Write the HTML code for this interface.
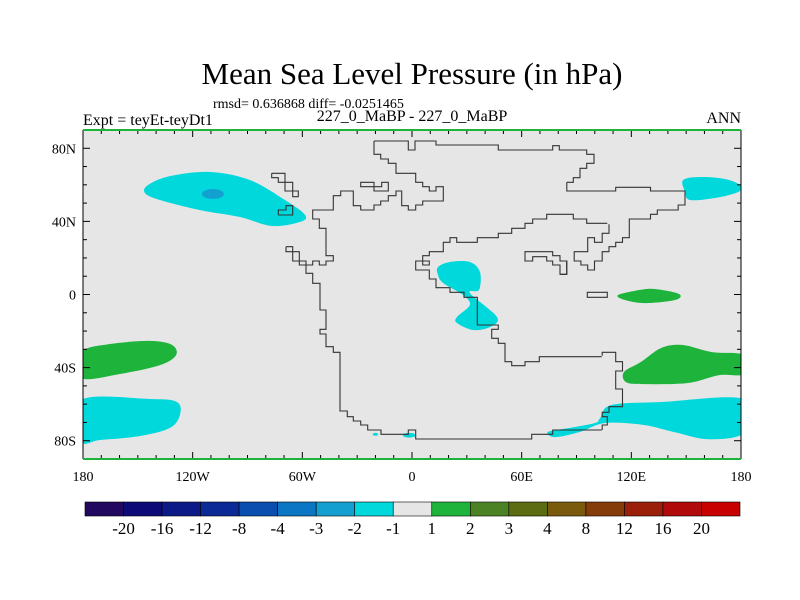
<!DOCTYPE html>
<html><head><meta charset="utf-8">
<style>
body{margin:0;background:#fff;}
svg{display:block;font-family:"Liberation Serif",serif;}
</style></head>
<body>
<svg id="chart" width="800" height="600" viewBox="0 0 800 600">
<text x="412" y="84" text-anchor="middle" font-size="31">Mean Sea Level Pressure (in hPa)</text>
<text x="213" y="108" font-size="14">rmsd= 0.636868 diff= -0.0251465</text>
<text x="83" y="125" font-size="16">Expt = teyEt-teyDt1</text>
<text x="412" y="121" text-anchor="middle" font-size="16">227_0_MaBP - 227_0_MaBP</text>
<text x="741" y="123" text-anchor="end" font-size="16">ANN</text>
<defs><clipPath id="plotclip"><rect x="83" y="130" width="658" height="329"/></clipPath></defs>
<rect x="83" y="130" width="658" height="329" fill="#e6e6e6"/>
<g id="fills" clip-path="url(#plotclip)"></g>
<g id="coast" clip-path="url(#plotclip)"></g>
<g id="axes"></g>
<g id="cbar"></g>
</svg>
<script>
const NS="http://www.w3.org/2000/svg";
const X0=83,X1=741,Y0=130,Y1=459;
function xs(lon){return X0+(lon+180)*(X1-X0)/360;}
function ys(lat){return Y0+(90-lat)*(Y1-Y0)/180;}
function mk(tag,attrs,parent){const e=document.createElementNS(NS,tag);for(const k in attrs)e.setAttribute(k,attrs[k]);parent.appendChild(e);return e;}

// ---- contour-fill regions (lon, lat) ----
const blobNames=["nw-pacific-low","ne-pacific-low","africa-low","equatorial-high","se-high","sw-high","sw-southern-low","se-southern-low"];
const blobLevels=[-1.5,-1.5,-1.5,1.5,1.5,1.5,-1.5,-1.5];
const blobLons=[
 [-144.4,-132.4,-110.5,-88.6,-69.5,-58.5,-61.3,-76.6,-94.1,-116,-137.9,-146.1],
 [148.3,157.6,171.2,179.4,178.5,165.8,152.1,149.4],
 [14.2,20.8,31.7,37.2,36.7,31.7,46.5,42.7,33.4,24.6,24.6,31.7,27.9,17,14.2],
 [112.7,124.7,132.9,146.1,143.9,127.5,116.5],
 [116,125.3,136.2,147.7,164.1,182,182,168,151,126.9,117.1],
 [-181,-165.2,-143.3,-131.3,-129.1,-137.9,-159.8,-181],
 [-181,-143.3,-128.6,-127,-132.4,-148.8,-170.7,-181],
 [102.9,108.9,136.2,182,182,162.5,143.9,126.9,105.6,91.9,78.2,74.4,86.4,100.1]
];
const blobLats=[
 [59.9,64.8,67,62.6,51.7,43.5,39.7,37.5,42.4,46.2,51.7,55.5],
 [62.6,64.3,63.2,59.9,56.1,52.8,51.7,56.1],
 [15,17.8,17.8,12.3,2.5,0.8,-12.3,-17.8,-19.4,-15.6,-12.3,-5.7,-0.3,6.3,10.7],
 [-0.3,2.5,3,0.3,-3,-4.7,-3],
 [-42.4,-36.9,-29.3,-27.6,-31.5,-33.2,-43.5,-44.1,-48.4,-49,-47.9],
 [-31.5,-27.1,-25.4,-27.6,-33.2,-38.6,-43.5,-45.7],
 [-57.7,-57.2,-58.8,-65.9,-73,-77.4,-79.6,-80.2],
 [-67.6,-60.5,-58.8,-57.2,-75.4,-79.2,-75.4,-71.4,-70.3,-75.2,-78,-75.2,-73,-70.3]
];
// small spots: lon, lat, rLon, rLat, level
const spotLons=[-108.9,-1.5,-20];
const spotLats=[55,-77,-76.5];
const spotRLon=[6,3.5,1.5];
const spotRLat=[2.7,1.3,0.8];
const spotLevels=[-2.5,-1.5,-1.5];

// colorbar
const cbLabels=["-20","-16","-12","-8","-4","-3","-2","-1","1","2","3","4","8","12","16","20"];
const cbColors=["#23085f","#0d0a78","#0c1a88","#0b2a96","#0a4fb0","#0a76c4","#13a0d0","#00d8dc","#e6e6e6","#1eb43c","#4a8224","#5b6c12","#7a5a0c","#843c0a","#9a200a","#b00a0a","#c80000"];
function colorFor(v){const b=[-20,-16,-12,-8,-4,-3,-2,-1,1,2,3,4,8,12,16,20];let i=0;while(i<b.length&&v>=b[i])i++;return cbColors[i];}

const fills=document.getElementById('fills');
function smoothPath(pts){
  const n=pts.length;let d="";
  for(let i=0;i<n;i++){
    const p0=pts[(i-1+n)%n],p1=pts[i],p2=pts[(i+1)%n],p3=pts[(i+2)%n];
    if(i===0)d+="M"+p1[0].toFixed(1)+","+p1[1].toFixed(1);
    const c1=[p1[0]+(p2[0]-p0[0])/6,p1[1]+(p2[1]-p0[1])/6];
    const c2=[p2[0]-(p3[0]-p1[0])/6,p2[1]-(p3[1]-p1[1])/6];
    d+="C"+c1[0].toFixed(1)+","+c1[1].toFixed(1)+" "+c2[0].toFixed(1)+","+c2[1].toFixed(1)+" "+p2[0].toFixed(1)+","+p2[1].toFixed(1);
  }
  return d+"Z";
}
blobLons.forEach((lons,k)=>{
  const pts=lons.map((lo,i)=>[xs(lo),ys(blobLats[k][i])]);
  const p=mk('path',{d:smoothPath(pts),fill:colorFor(blobLevels[k])},fills);
  
  
});
spotLons.forEach((lo,k)=>{
  const e=mk('ellipse',{cx:xs(lo),cy:ys(spotLats[k]),rx:spotRLon[k]*(X1-X0)/360,ry:spotRLat[k]*(Y1-Y0)/180,fill:colorFor(spotLevels[k])},fills);
  
  
});

// ---- coastlines traced in zoom frames: [originX, originY, scaleX, scaleY, closed, pts...]
const coastTraces=[
 [270,135,3,3,0,[312,18,415,18,415,45,435,45,435,18,498,18,498,30,685,30,685,45,848,45,848,32,868,32,868,45,950,45,950,58,972,58,972,85,950,85,950,100,930,100,930,128,910,128,910,142,890,142]],
 [560,135,2.96,3,0,[20,142,20,168,165,168,165,157,268,157,268,168,370,168,370,210,350,210,350,225,288,225,288,238,268,238,268,252,205,252,205,308,185,308,185,322,165,322,165,335,145,335,145,350,125,350,125,378,102,378,102,405,82,405,82,390,62,390,62,378,42,378,42,350,82,350,82,308,102,308,102,322,125,322,125,295,145,295,145,268]],
 [270,135,3,3,0,[312,18,312,58,332,58,332,72,355,72,355,85,378,85,378,115,437,115,437,142,458,142,458,155,478,155,478,168,498,168,498,155,520,155,520,198,458,198,458,210,437,210,437,225,415,225,415,212,395,212,395,168,378,168,378,182,355,182,355,198,332,198,332,210,312,210,312,225,272,225,272,212,250,212,250,168,212,168,212,182,190,182,190,225,128,225,128,252,148,252,148,280,168,280,168,362,190,362,190,378,168,378,168,390,148,390,148,378,128,378,128,390,108,390,108,415,128,415,128,445,150,445,150,525,168,525,168,583,150,583,150,597,168,597,168,635,190,635,190,652,210,652,210,828,232,828,232,845,250,845,250,858,272,858,272,870,293,870,293,885,333,885,333,898,415,898,415,885,437,885,437,912,785,912,785,898,848,898,848,885,995,885]],
 [560,135,2.96,3,0,[125,885,125,870,140,870,140,845,125,845,125,832,145,832,145,815,185,815,185,762,165,762,165,708,185,708,185,680,165,680,165,652,125,652,125,662]],
 [270,135,3,3,0,[995,665,808,665,808,680,765,680,765,692,725,692,725,680,705,680,705,625,685,625,685,610,665,610,665,583,685,583,685,570,622,570,622,487,582,487,582,472,540,472,540,458,498,458,498,432,478,432,478,405,437,405,437,378,458,378,458,362,478,362,478,350,520,350,520,322,540,322,540,308,560,308,560,322,622,322,622,308,685,308,685,295,725,295,725,280,765,280,765,265,788,265,788,252,830,252,830,238,910,238,910,252,950,252,950,265,1012,265]],
 [270,135,3,3,0,[458,378,478,378,478,390,458,390,458,378]],
 [270,135,3,3,1,[272,142,312,142,312,155,335,155,335,142,355,142,355,168,312,168,312,155,272,155]],
 [270,135,3,3,1,[765,350,848,350,848,362,870,362,870,378,890,378,890,418,870,418,870,390,848,390,848,378,830,378,830,365,788,365,788,378,765,378]],
 [270,135,3,3,1,[952,472,1012,472,1012,487,952,487]],
 [270,135,3,3,0,[5,115,45,115,45,142,68,142,68,168,85,168,85,185,68,185,68,168,45,168,45,142,25,142,25,128,5,128,5,115]],
 [270,135,3,3,0,[25,240,68,240,68,212,48,212,48,225,25,225,25,240]],
 [270,135,3,3,0,[48,335,68,335,68,350,88,350,88,378,108,378,108,390]],
 [270,135,3,3,0,[48,335,48,350,68,350,68,378,88,378,88,390,108,390]],
 [560,135,2.96,3,0,[0,378,20,378,20,418,0,418]]
];
const coast=document.getElementById('coast');
coastTraces.forEach(t=>{
  const [ox,oy,sx,sy,closed,a]=t;
  let d="";
  for(let i=0;i<a.length;i+=2){
    const lon=(ox+a[i]/sx-412)/((X1-X0)/360), lat=(294.5-(oy+a[i+1]/sy))/((Y1-Y0)/180);
    d+=(i?"L":"M")+xs(lon).toFixed(1)+","+ys(lat).toFixed(1);
  }
  if(closed)d+="Z";
  const p=mk('path',{d:d,fill:'none',stroke:'#333','stroke-width':1.1},coast);
  
  
});

// ---- axes ----
const axes=document.getElementById('axes');
const lonTicks=[-180,-120,-60,0,60,120,180];
const lonLabels=["180","120W","60W","0","60E","120E","180"];
const latTicks=[80,40,0,-40,-80];
const latLabels=["80N","40N","0","40S","80S"];
for(let lo=-170;lo<180;lo+=10){
  const maj=lo%60===0;const L=maj?7:4;
  mk('line',{x1:xs(lo),x2:xs(lo),y1:Y0,y2:Y0+L,stroke:'#000'},axes);
  mk('line',{x1:xs(lo),x2:xs(lo),y1:Y1,y2:Y1-L,stroke:'#000'},axes);
}
for(let la=-80;la<=80;la+=10){
  const maj=la%40===0;const L=maj?7:4;
  mk('line',{x1:X0,x2:X0+L,y1:ys(la),y2:ys(la),stroke:'#000'},axes);
  mk('line',{x1:X1,x2:X1-L,y1:ys(la),y2:ys(la),stroke:'#000'},axes);
}
mk('line',{x1:X0,x2:X0,y1:Y0,y2:Y1,stroke:'#000'},axes);
mk('line',{x1:X1,x2:X1,y1:Y0,y2:Y1,stroke:'#000'},axes);
mk('line',{x1:X0,x2:X1,y1:Y0,y2:Y0,stroke:'#1eb43c','stroke-width':2},axes);
mk('line',{x1:X0,x2:X1,y1:Y1,y2:Y1,stroke:'#1eb43c','stroke-width':2},axes);
lonTicks.forEach((lo,i)=>{
  const t=mk('text',{x:xs(lo),y:481,'text-anchor':'middle','font-size':14},axes);
  t.textContent=lonLabels[i];
  
  
});
latTicks.forEach((la,i)=>{
  const t=mk('text',{x:76,y:ys(la)+5,'text-anchor':'end','font-size':14},axes);
  t.textContent=latLabels[i];
  
  
});

// ---- colorbar ----
const cb=document.getElementById('cbar');
const CB0=85,CB1=740,CBY=502,CBH=14,bw=(CB1-CB0)/cbColors.length;
cbColors.forEach((c,i)=>{
  const r=mk('rect',{x:CB0+i*bw,y:CBY,width:bw,height:CBH,fill:c,stroke:'#000','stroke-width':0.6},cb);
  
  
});
cbLabels.forEach((s,i)=>{
  const t=mk('text',{x:CB0+(i+1)*bw,y:534,'text-anchor':'middle','font-size':17},cb);
  t.textContent=s;
  
  
});
</script>
</body></html>
